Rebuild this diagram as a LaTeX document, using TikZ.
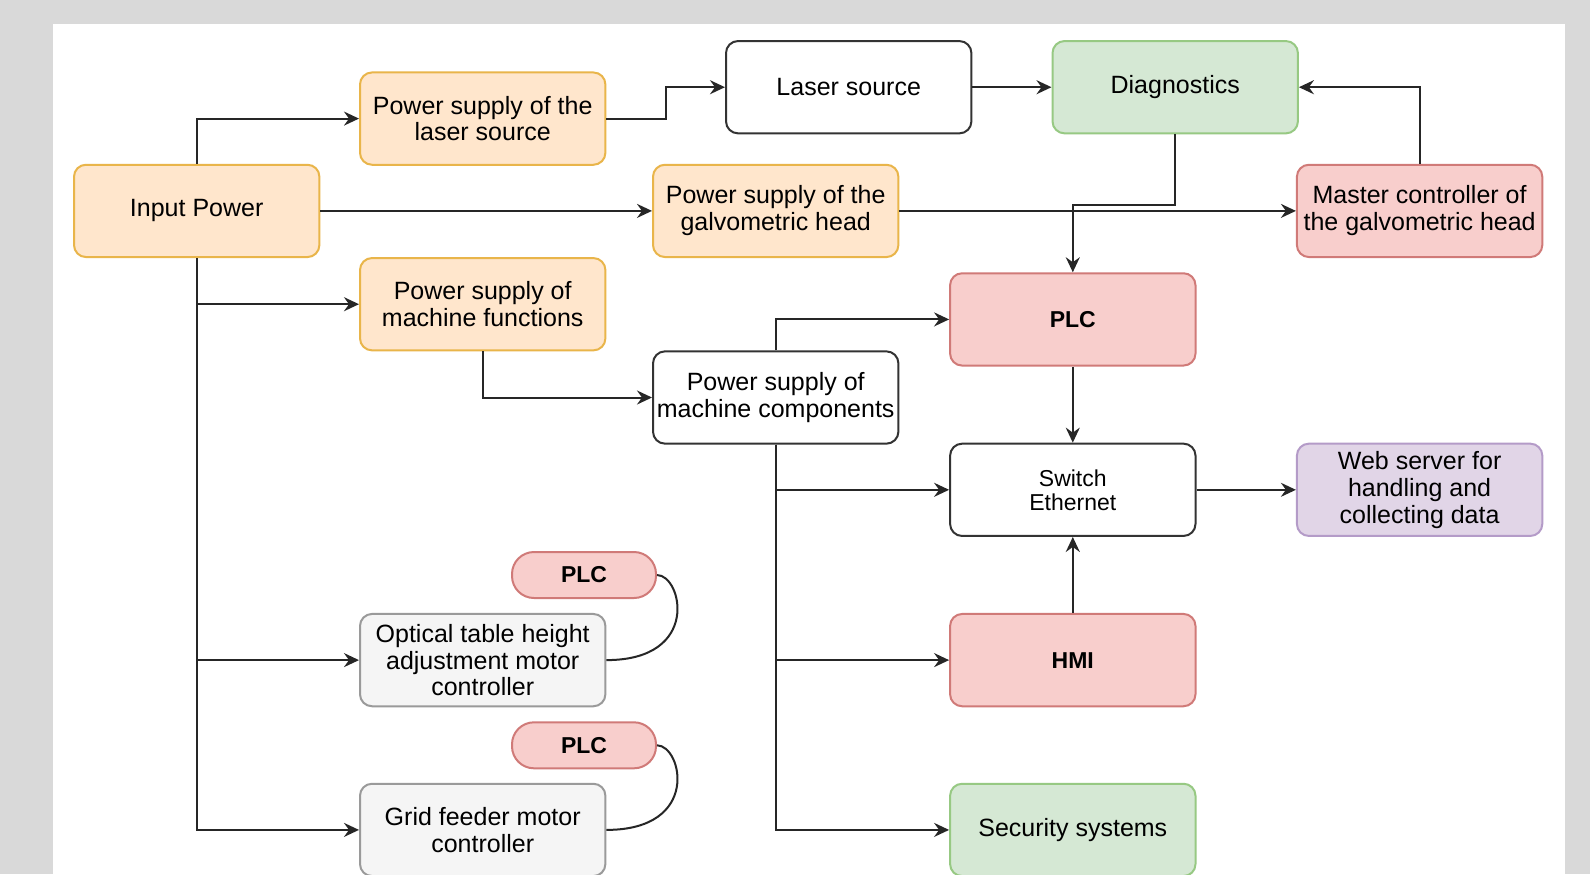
\documentclass[tikz,border=0pt]{standalone}
\usepackage{fontspec}
\setmainfont{Liberation Sans}
\usepackage{tikz}
\usetikzlibrary{arrows.meta, calc}
\definecolor{bggray}{HTML}{D9D9D9}
\definecolor{orfill}{HTML}{FFE6CC}
\definecolor{orline}{HTML}{E9B54A}
\definecolor{grfill}{HTML}{D5E8D4}
\definecolor{grline}{HTML}{97C983}
\definecolor{rdfill}{HTML}{F8CECC}
\definecolor{rdline}{HTML}{D07A78}
\definecolor{pufill}{HTML}{E1D5E7}
\definecolor{puline}{HTML}{B49BC8}
\definecolor{gyfill}{HTML}{F5F5F5}
\definecolor{gyline}{HTML}{9A9A9A}

\begin{document}
\begin{tikzpicture}[x=0.5pt, y=-0.5pt,
    blk/.style={draw=black!80, fill=white, rounded corners=6pt, line width=1pt,
      minimum width=122.7pt, minimum height=46.15pt, inner sep=1pt, align=center,
      font=\fontsize{12.5}{13.4}\selectfont},
    orng/.style={blk, draw=orline, fill=orfill},
    grn/.style={blk, draw=grline, fill=grfill},
    rd/.style={blk, draw=rdline, fill=rdfill},
    purp/.style={blk, draw=puline, fill=pufill},
    gry/.style={blk, draw=gyline, fill=gyfill},
    pill/.style={rd, minimum width=72pt, minimum height=23pt, rounded corners=11pt,
      font=\fontsize{11.5}{13}\selectfont\bfseries},
    link/.style={draw=black!85, line width=1pt, -{Stealth[length=7.5pt, width=7pt, inset=2.5pt]}},
    wire/.style={draw=black!85, line width=1pt}]
    \useasboundingbox (0,0) rectangle (1590,874);
    \fill[bggray] (0,0) rectangle (1590,874);
    \fill[white] (53,24) rectangle (1565,874);

    \node[orng] (input) at (196.7,210.9) {Input Power};
    \node[orng] (pslaser) at (482.7,118.6) {Power supply of the\\laser source};
    \node[blk] (laser) at (848.7,87.2) {Laser source};
    \node[grn] (diag) at (1175.2,87.2) {Diagnostics};
    \node[orng] (psgalvo) at (775.7,210.9) {Power supply of the\\galvometric head};
    \node[rd] (master) at (1419.6,210.9) {Master controller of\\the galvometric head};
    \node[orng] (psfunc) at (482.7,304.2) {Power supply of\\machine functions};
    \node[blk] (pscomp) at (775.7,397.5) {Power supply of\\machine components};
    \node[rd, font=\fontsize{11.5}{13}\selectfont\bfseries] (plc) at (1072.8,319.4) {PLC};
    \node[blk, font=\fontsize{11.5}{12}\selectfont] (switch) at (1072.8,489.8) {Switch\\Ethernet};
    \node[purp] (web) at (1419.6,489.8) {Web server for\\handling and\\collecting data};
    \node[rd, font=\fontsize{11.5}{13}\selectfont\bfseries] (hmi) at (1072.8,660.1) {HMI};
    \node[grn] (security) at (1072.8,829.9) {Security systems};
    \node[gry] (optical) at (482.7,660.1) {Optical table height\\adjustment motor\\controller};
    \node[gry] (grid) at (482.7,829.9) {Grid feeder motor\\controller};
    \node[pill] (plca) at (584,575) {PLC};
    \node[pill] (plcb) at (584,745.3) {PLC};

    \draw[link] (input.north) |- (pslaser.west);
    \draw[link] (input.east) -- (psgalvo.west);
    \draw[link] (input.south) |- (psfunc.west);
    \draw[link] (input.south) |- (optical.west);
    \draw[link] (input.south) |- (grid.west);
    \draw[link] (pslaser.east) -| ($(pslaser.east)!0.5!(laser.west)$) |- (laser.west);
    \draw[link] (laser.east) -- (diag.west);
    \draw[link] (master.north) |- (diag.east);
    \draw[link] (diag.south) -- ++(0,70.5) -| (plc.north);
    \draw[link] (psgalvo.east) -- (master.west);
    \draw[link] (psfunc.south) |- (pscomp.west);
    \draw[link] (pscomp.north) |- (plc.west);
    \draw[link] (pscomp.south) |- (switch.west);
    \draw[link] (pscomp.south) |- (hmi.west);
    \draw[link] (pscomp.south) |- (security.west);
    \draw[link] (plc.south) -- (switch.north);
    \draw[link] (hmi.north) -- (switch.south);
    \draw[link] (switch.east) -- (web.west);
    \draw[wire] (plca.east) .. controls +(25,0) and +(95,0) .. (optical.east);
    \draw[wire] (plcb.east) .. controls +(25,0) and +(95,0) .. (grid.east);
\end{tikzpicture}
\end{document}
